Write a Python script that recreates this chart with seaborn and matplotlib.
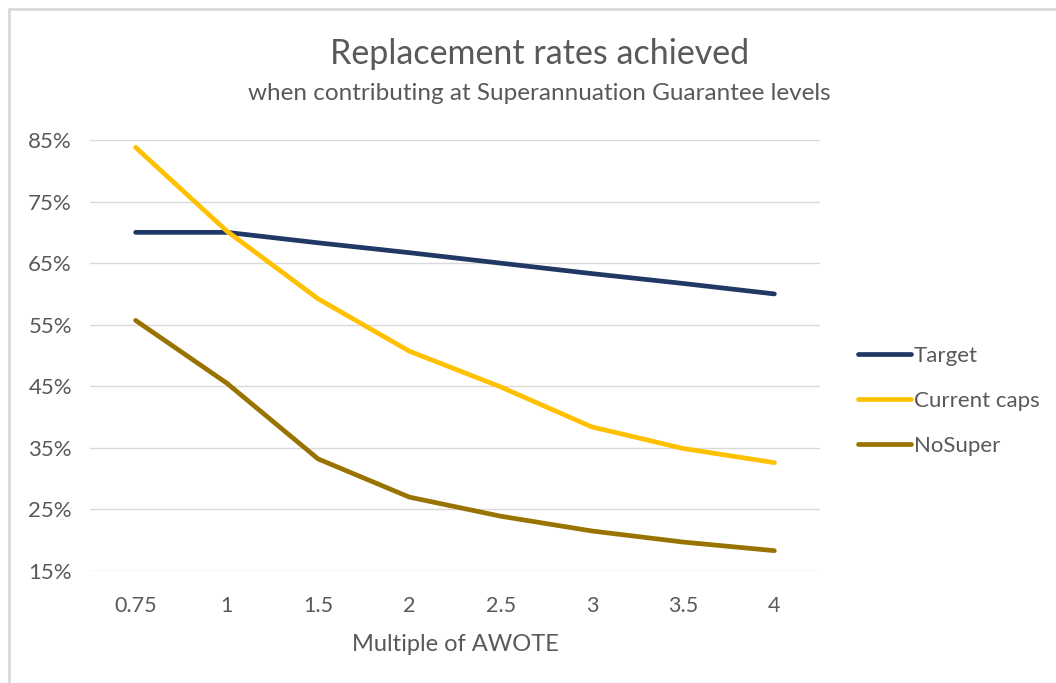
import matplotlib
matplotlib.use('Agg')
import matplotlib.pyplot as plt
import seaborn as sns
import pandas as pd
from matplotlib.lines import Line2D
from matplotlib.ticker import FuncFormatter

# данные
multiples = ['0.75', '1', '1.5', '2', '2.5', '3', '3.5', '4']
target = [70, 70, 68.3, 66.7, 65, 63.3, 61.7, 60]
current_caps = [83.8, 70.2, 59.2, 50.7, 44.9, 38.4, 34.9, 32.6]
no_super = [55.7, 45.5, 33.2, 27.0, 23.9, 21.5, 19.7, 18.3]
series_names = ['Target', 'Current caps', 'NoSuper']
colors = ['#203864', '#FFC000', '#997300']

df = pd.DataFrame({
    'multiple': multiples * 3,
    'rate': target + current_caps + no_super,
    'series': [s for s in series_names for _ in multiples],
})

sns.set_style('white')
plt.rcParams['font.family'] = ['Lato', 'DejaVu Sans']
grey = '#595959'

fig = plt.figure(figsize=(10.56, 6.83), dpi=100)
ax = fig.add_axes([90 / 1056, 1 - 571 / 683, 730 / 1056, 431 / 683])

sns.lineplot(data=df, x='multiple', y='rate', hue='series', palette=colors,
             hue_order=series_names, linewidth=3.4, ax=ax, sort=False)
for line in ax.lines:
    line.set_solid_capstyle('round')
    line.set_solid_joinstyle('round')

ax.set_xlim(-0.5, 7.5)
ax.set_ylim(15, 85)
ax.set_yticks([15, 25, 35, 45, 55, 65, 75, 85])
ax.yaxis.set_major_formatter(FuncFormatter(lambda v, p: f'{v:.0f}%'))
ax.grid(axis='y', color='#d9d9d9', linewidth=1)
ax.set_axisbelow(True)
for s in ax.spines.values():
    s.set_visible(False)
ax.tick_params(axis='both', length=0, labelsize=15.5, colors=grey)
ax.tick_params(axis='y', labelsize=16, pad=13)
ax.tick_params(axis='x', pad=18)
ax.set_ylabel('')
ax.set_xlabel('Multiple of AWOTE', fontsize=17, color=grey, labelpad=13)

fig.text(0.511, 1 - 54 / 683, 'Replacement rates achieved', ha='center', va='center',
         fontsize=24.5, color=grey)
fig.text(0.511, 1 - 94 / 683, 'when contributing at Superannuation Guarantee levels',
         ha='center', va='center', fontsize=17.5, color=grey)

leg = ax.legend(loc='center left', bbox_to_anchor=(858 / 1056, 1 - 401 / 683),
                bbox_transform=fig.transFigure, frameon=False, fontsize=16,
                handlelength=2.4, handletextpad=0.1, labelspacing=1.12,
                borderpad=0, borderaxespad=0)
for t in leg.get_texts():
    t.set_color(grey)

# рамка диаграммы
fig.add_artist(Line2D([9 / 1056, 9 / 1056], [0, 1 - 9 / 683], transform=fig.transFigure,
                      color='#d9d9d9', linewidth=2))
fig.add_artist(Line2D([9 / 1056, 1], [1 - 9 / 683, 1 - 9 / 683], transform=fig.transFigure,
                      color='#d9d9d9', linewidth=2))

fig.savefig('out.png', dpi=100)
